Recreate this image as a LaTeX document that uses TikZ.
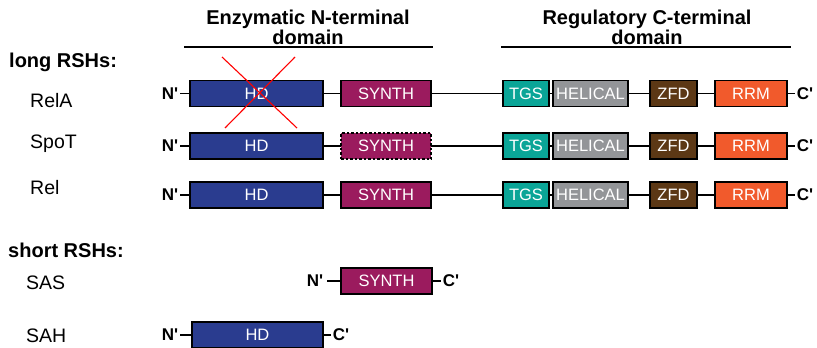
\documentclass[tikz,border=0pt]{standalone}
\usepackage{fontspec}
\setmainfont{Liberation Sans}
\definecolor{hdblue}{HTML}{2A3C8F}
\definecolor{synthc}{HTML}{9B1B5E}
\definecolor{tgsc}{HTML}{0AA597}
\definecolor{helc}{HTML}{939598}
\definecolor{zfdc}{HTML}{5C3815}
\definecolor{rrmc}{HTML}{F15A2C}
\begin{document}
\begin{tikzpicture}[x=1pt,y=-1pt,
  dom/.style={draw=black, line width=1.2pt, minimum height=26pt, inner sep=0pt, outer sep=0pt, anchor=west, text=white, font=\fontsize{16.5}{16.5}\selectfont},
  term/.style={font=\fontsize{17}{17}\selectfont\bfseries, inner sep=0pt},
  lbl/.style={font=\fontsize{19.5}{19.5}\selectfont, anchor=west, inner sep=0pt},
  grp/.style={font=\fontsize{20}{20}\selectfont\bfseries, anchor=west, inner sep=0pt},
  head/.style={font=\fontsize{20}{20}\selectfont\bfseries, align=center, inner sep=0pt},
  link/.style={line width=1.3pt}]
\useasboundingbox (0,0) rectangle (817,348);
% headings
\node[head] (hN) at (308,27) {Enzymatic N-terminal\\domain};
\node[head] (hC) at (647,27) {Regulatory C-terminal\\domain};
\coordinate (nl1) at (184,47); \coordinate (nl2) at (433,47);
\coordinate (cl1) at (501,47); \coordinate (cl2) at (791,47);
\draw[link] (nl1) -- (nl2);
\draw[link] (cl1) -- (cl2);
% group labels
\node[grp] (long) at (9,62) {long RSHs:};
\node[grp] (short) at (8,250) {short RSHs:};
\node[lbl] (lA) at (30,101) {RelA};
\node[lbl] (lS) at (30,144) {SpoT};
\node[lbl] (lR) at (30,188) {Rel};
\node[lbl] (lSAS) at (26,283) {SAS};
\node[lbl] (lSAH) at (26,336) {SAH};
% long rows
\foreach \r/\y in {a/93.5, b/146, c/195}{
  \node[term] (n\r) at (170,\y) {N\textquotesingle};
  \node[dom, fill=hdblue, minimum width=133pt] (hd\r) at (190,\y) {HD};
  \node[dom, fill=tgsc, minimum width=46pt] (tgs\r) at (503,\y) {TGS};
  \node[dom, fill=helc, minimum width=75pt] (hel\r) at (553,\y) {HELICAL};
  \node[dom, fill=zfdc, minimum width=47pt] (zfd\r) at (650,\y) {ZFD};
  \node[dom, fill=rrmc, minimum width=72pt] (rrm\r) at (715,\y) {RRM};
  \node[term] (c\r) at (805,\y) {C\textquotesingle};
}
\node[dom, fill=synthc, minimum width=90pt] (sya) at (341,93.5) {SYNTH};
\node[dom, fill=synthc, minimum width=90pt, dash pattern=on 2.5pt off 2pt] (syb) at (341,146) {SYNTH};
\node[dom, fill=synthc, minimum width=90pt] (syc) at (341,195) {SYNTH};
\foreach \r in {a,b,c}{
  \draw[link] (n\r.east) ++(2,0) -- (hd\r.west);
  \draw[link] (hd\r) -- (sy\r);
  \draw[link] (sy\r) -- (tgs\r);
  \draw[link] (tgs\r) -- (hel\r);
  \draw[link] (hel\r) -- (zfd\r);
  \draw[link] (zfd\r) -- (rrm\r);
  \draw[link] (rrm\r.east) -- ([xshift=-2pt]c\r.west);
}
% red cross over RelA HD
\coordinate (x1) at (222,57); \coordinate (x2) at (297,128);
\coordinate (x3) at (295,57); \coordinate (x4) at (225,128);
\draw[red, line width=1.1pt] (x1) -- (x2);
\draw[red, line width=1.1pt] (x3) -- (x4);
% SAS
\node[term] (nsas) at (315,281) {N\textquotesingle};
\node[dom, fill=synthc, minimum width=91pt] (sysas) at (341,281) {SYNTH};
\node[term] (csas) at (451,281) {C\textquotesingle};
\draw[link] ([xshift=4pt]nsas.east) -- (sysas.west);
\draw[link] (sysas.east) -- ([xshift=-2pt]csas.west);
% SAH
\node[term] (nsah) at (170,335) {N\textquotesingle};
\node[dom, fill=hdblue, minimum width=131pt] (hdsah) at (192,335) {HD};
\node[term] (csah) at (341,335) {C\textquotesingle};
\draw[link] ([xshift=2pt]nsah.east) -- (hdsah.west);
\draw[link] (hdsah.east) -- ([xshift=-2pt]csah.west);
\end{tikzpicture}
\end{document}
